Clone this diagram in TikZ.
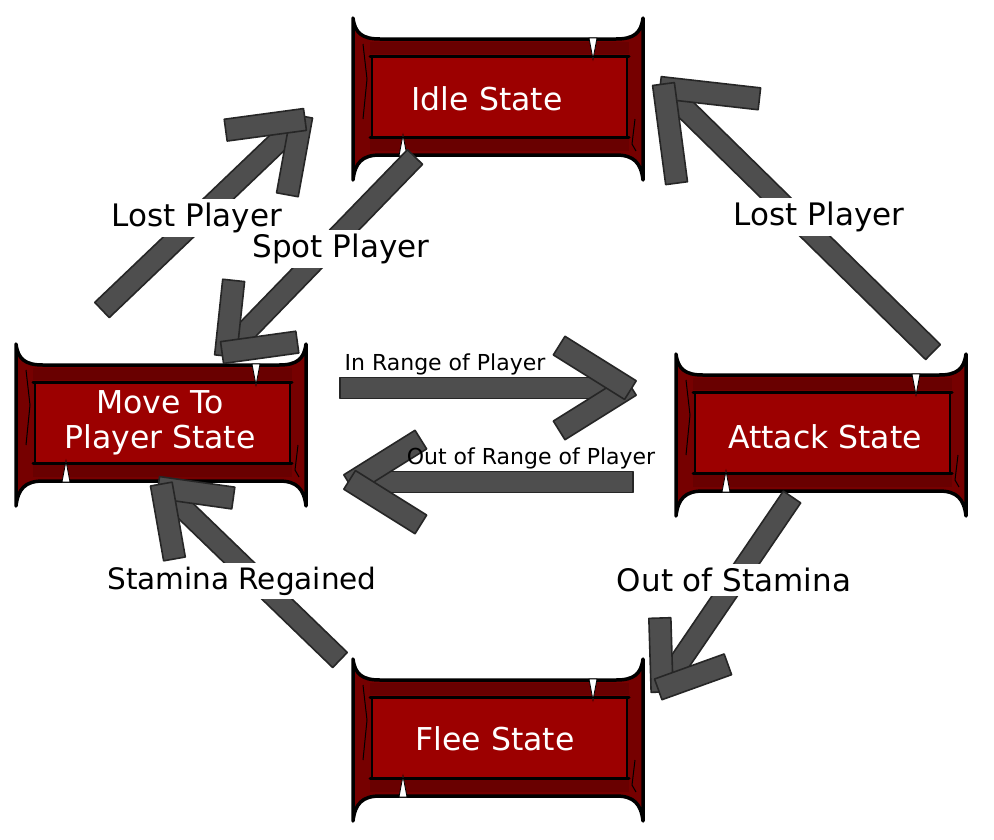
\documentclass[tikz,border=0pt]{standalone}
\usepackage{fontspec}
\setmainfont{DejaVu Sans}
\usetikzlibrary{calc}
\definecolor{bandred}{RGB}{118,0,0}
\definecolor{darkband}{RGB}{105,0,0}
\definecolor{panelred}{RGB}{156,0,0}
\definecolor{arrowgray}{RGB}{78,78,78}
\definecolor{arrowedge}{RGB}{38,38,38}
\tikzset{
  x=1pt, y=-1pt,
  banner/.pic={
    \fill[bandred, draw=black, line width=3.5pt, line join=round]
      (-145,-81) .. controls (-143,-66) and (-136,-60) .. (-118,-60)
      -- (118,-60) .. controls (136,-60) and (143,-66) .. (145,-81)
      -- (145,81) .. controls (143,64) and (136,56) .. (118,56)
      -- (-118,56) .. controls (-136,56) and (-143,64) .. (-145,81) -- cycle;
    \fill[darkband] (-128,-57) rectangle (131,-45);
    \fill[darkband] (-128,40) rectangle (131,52);
    \fill[panelred, draw=black, line width=1.2pt] (-126,-43) rectangle (129,38);
    \draw[black, line width=3pt, line cap=round] (-128,-43) -- (131,-43);
    \draw[black, line width=3pt, line cap=round] (-128,38) -- (131,38);
    \draw[black, line width=1pt] (-135,-55) -- (-131,-20) -- (-135,20);
    \draw[black, line width=1pt] (137,20) -- (134,45) -- (138,52);
    \filldraw[fill=white, draw=black, line width=0.8pt] (91,-61) -- (95,-40) -- (99,-61) -- cycle;
    \filldraw[fill=white, draw=black, line width=0.8pt] (-91,57) -- (-95,36) -- (-99,57) -- cycle;
  },
  boxtext/.style={text=white, font=\fontsize{31.5}{35}\selectfont, align=center, inner sep=0pt},
  lbl/.style={text=black, font=\fontsize{31}{34}\selectfont, fill=white, inner sep=4pt},
  smalllbl/.style={text=black, font=\fontsize{22}{24}\selectfont, inner sep=1pt},
  armfill/.style={fill=arrowgray, draw=arrowedge, line width=1.6pt, line join=round},
}
% #1 tail, #2 tip, #3 head bar length, #4 half angle
\newcommand\fatarrow[4]{%
  \path[armfill] ($(#1)!10.5pt!90:(#2)$) -- ($(#2)!10.5pt!-90:(#1)$)
     -- ($(#2)!10.5pt!90:(#1)$) -- ($(#1)!10.5pt!-90:(#2)$) -- cycle;
  \coordinate (#2-l) at ($(#2)!#3!#4:(#1)$);
  \coordinate (#2-r) at ($(#2)!#3!-#4:(#1)$);
  \coordinate (#2-ls) at ($(#2)!-4pt!(#2-l)$);
  \coordinate (#2-rs) at ($(#2)!-4pt!(#2-r)$);
  \path[armfill] ($(#2-ls)!11pt!90:(#2-l)$) -- ($(#2-l)!11pt!-90:(#2-ls)$)
     -- ($(#2-l)!11pt!90:(#2-ls)$) -- ($(#2-ls)!11pt!-90:(#2-l)$) -- cycle;
  \path[armfill] ($(#2-rs)!11pt!90:(#2-r)$) -- ($(#2-r)!11pt!-90:(#2-rs)$)
     -- ($(#2-r)!11pt!90:(#2-rs)$) -- ($(#2-rs)!11pt!-90:(#2-r)$) -- cycle;
}
\begin{document}
\begin{tikzpicture}
\useasboundingbox[fill=white] (0,0) rectangle (994,839);
% boxes
\pic at (498,99) {banner};
\pic at (161,425) {banner};
\pic at (821,435) {banner};
\pic at (498,740) {banner};
\node[boxtext] (idle) at (487,99) {Idle State};
\node[boxtext] (move) at (160,423) {Move To\\Player State};
\node[boxtext] (attack) at (825,437) {Attack State};
\node[boxtext] (flee) at (495,739) {Flee State};
% arrow end points
\coordinate (a1t) at (102,310);  \coordinate (a1h) at (301,120);
\coordinate (a2t) at (415,157);  \coordinate (a2h) at (226,352);
\coordinate (a3t) at (340,388);  \coordinate (a3h) at (627,388);
\coordinate (a4t) at (633,482);  \coordinate (a4h) at (353,482);
\coordinate (a5t) at (933,352);  \coordinate (a5h) at (664,88);
\coordinate (a6t) at (340,660);  \coordinate (a6h) at (162,488);
\coordinate (a7t) at (792,497);  \coordinate (a7h) at (662,688);
\fatarrow{a1t}{a1h}{76pt}{36}
\fatarrow{a2t}{a2h}{72pt}{38}
\fatarrow{a3t}{a3h}{80pt}{32}
\fatarrow{a4t}{a4h}{80pt}{32}
\fatarrow{a5t}{a5h}{96pt}{38}
\fatarrow{a6t}{a6h}{72pt}{36}
\fatarrow{a7t}{a7h}{70pt}{36}
% labels
\node[lbl] (l1) at (197,218) {Lost Player};
\node[lbl] (l2) at (341,249) {Spot Player};
\node[smalllbl] (l3) at (445,364) {In Range of Player};
\node[smalllbl] (l4) at (531,458) {Out of Range of Player};
\node[lbl] (l5) at (819,217) {Lost Player};
\node[lbl, font=\fontsize{29.5}{32}\selectfont] (l6) at (242,581) {Stamina Regained};
\node[lbl] (l7) at (734,580) {Out of Stamina};
\end{tikzpicture}
\end{document}
